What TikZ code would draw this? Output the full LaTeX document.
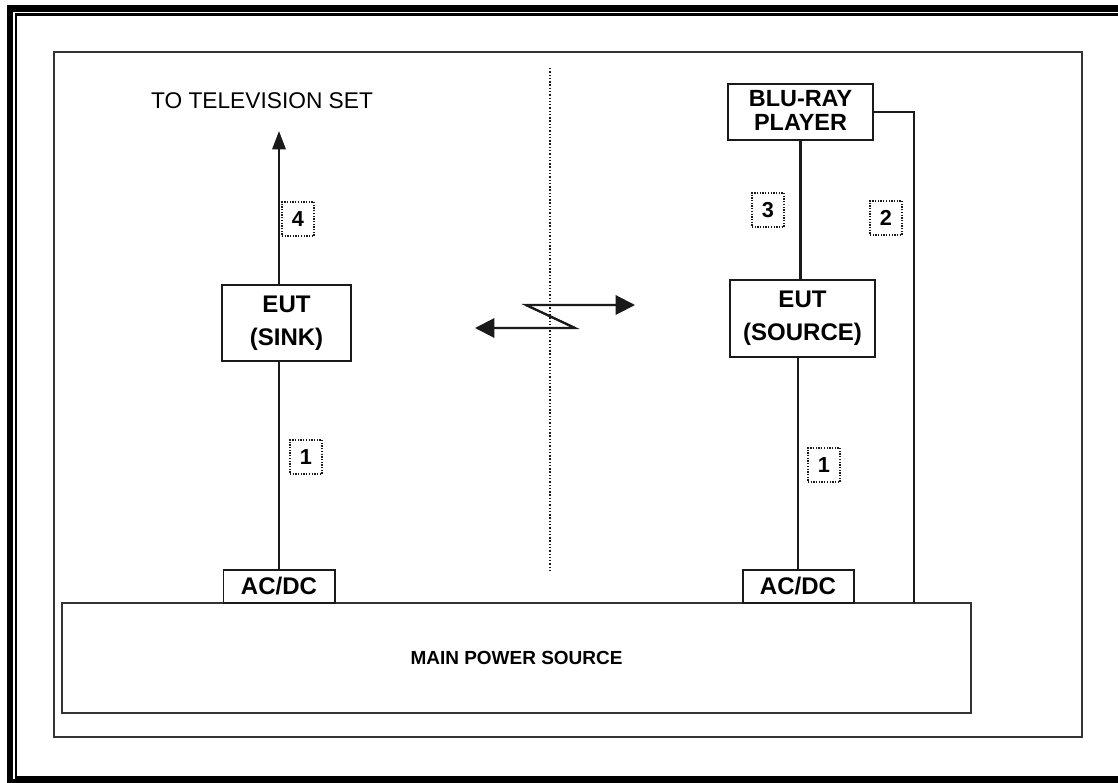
\documentclass[tikz,border=0pt]{standalone}
\usepackage{fontspec}
\setmainfont{Liberation Sans}
\usetikzlibrary{arrows.meta,calc,positioning}
\definecolor{RigLine}{HTML}{1A1A1A}
\definecolor{RigFrame}{HTML}{333333}

\tikzset{
  unitbox/.style={draw=RigLine,line width=1.7pt,fill=white,align=center,inner sep=0pt,
    font=\bfseries\fontsize{20.5}{28.5}\selectfont},
  tagbox/.style={draw=RigLine,line width=1.1pt,dash pattern=on 1.1pt off 1.2pt,
    minimum width=0.96cm,minimum height=1.02cm,inner sep=0pt,
    font=\bfseries\fontsize{18.5}{20}\selectfont},
  wire/.style={RigLine,line width=1.8pt},
}

\begin{document}
\begin{tikzpicture}[x=0.03cm,y=-0.03cm]
  \useasboundingbox (0,0) rectangle (1118,783);
  \draw[black,line width=5.2pt] (1118,8.5) -- (10,8.5) -- (10,782) -- (1118,782);
  \draw[black,line width=1.8pt] (1118,14.5) -- (16,14.5) -- (16,777.5) -- (1118,777.5);
  \draw[RigFrame,line width=1.8pt] (54,52) rectangle (1082,737);

  \draw[RigLine,line width=1.3pt,dash pattern=on 1.2pt off 1.6pt] (550,68) -- (550,572);

  \node[unitbox,draw=RigFrame,minimum width=27.27cm,minimum height=3.3cm,font=\bfseries\fontsize{16.2}{18}\selectfont] (mains) at (516.5,658) {MAIN POWER SOURCE};
  \node[unitbox,minimum width=3.33cm,minimum height=0.99cm] (acl) at (279,586.5) {AC/DC};
  \node[unitbox,minimum width=3.33cm,minimum height=0.99cm] (acr) at (798,586.5) {AC/DC};
  \node[unitbox,minimum width=3.87cm,minimum height=2.28cm] (sink) at (286.5,323) {EUT\\(SINK)};
  \node[unitbox,minimum width=4.35cm,minimum height=2.31cm] (source) at (802.5,318.5) {EUT\\(SOURCE)};
  \node[unitbox,minimum width=4.35cm,minimum height=1.68cm,font=\bfseries\fontsize{20}{20}\selectfont] (bluray) at (800.5,112) {BLU-RAY\\PLAYER\vspace{3pt}};
  \node[font=\fontsize{19.4}{22}\selectfont] (tv) at (262,101) {TO TELEVISION SET};

  \coordinate (tvend) at (279,131);
  \coordinate (pwr2) at (914,603);
  \coordinate (zt) at (526,305);
  \coordinate (zb) at (575,328);
  \coordinate (wr) at (635,305);
  \coordinate (wl) at (475,328);

  \draw[wire] (acl.north) -- (acl.north |- sink.south);
  \draw[wire,-{Triangle[length=0.55cm,width=0.4cm]}] (acl.north |- sink.north) -- (tvend);
  \draw[wire] (acr.north) -- (acr.north |- source.south);
  \draw[wire] (bluray.south) -- (bluray.south |- source.north);
  \draw[wire] (bluray.east) -| (pwr2);
  \draw[wire,-{Triangle[length=0.58cm,width=0.58cm]}] (zb) -- (zt) -- (wr);
  \draw[wire,-{Triangle[length=0.58cm,width=0.58cm]}] (zt) -- (zb) -- (wl);

  \node[tagbox] (t4) at (298,219) {4};
  \node[tagbox] (t1a) at (306,457) {1};
  \node[tagbox] (t3) at (768,210) {3};
  \node[tagbox] (t2) at (886,218) {2};
  \node[tagbox] (t1b) at (824,465) {1};
\end{tikzpicture}
\end{document}
